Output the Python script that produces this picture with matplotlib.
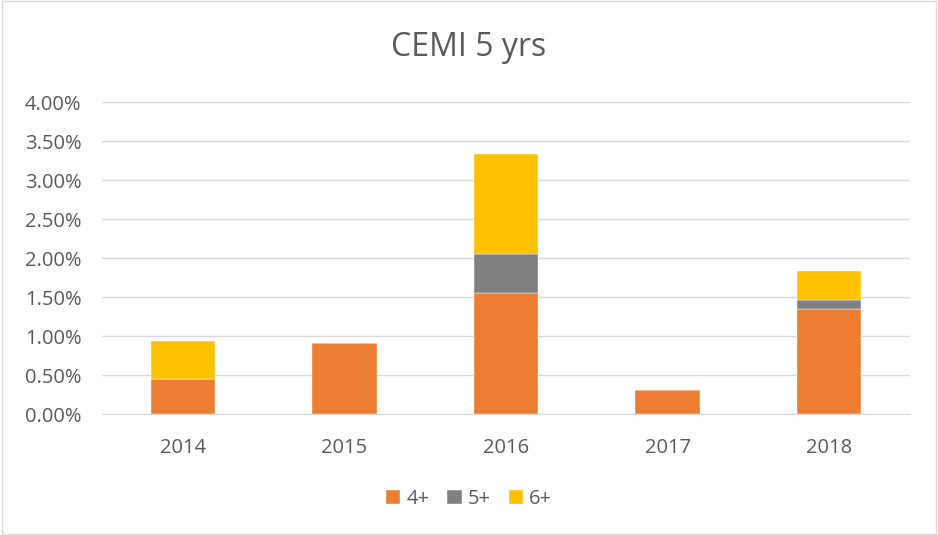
import numpy as np
import matplotlib.pyplot as plt
from matplotlib.patches import Rectangle
from matplotlib.ticker import FuncFormatter

years = ['2014', '2015', '2016', '2017', '2018']
s4 = np.array([0.455, 0.913, 1.55, 0.306, 1.346])
s5 = np.array([0.0, 0.0, 0.505, 0.0, 0.119])
s6 = np.array([0.488, 0.0, 1.275, 0.0, 0.365])
labels = ['4+', '5+', '6+']
colors = ['#ED7D31', '#808080', '#FFC000']

plt.rcParams['font.family'] = ['Open Sans', 'DejaVu Sans']
txt = '#595959'

fig = plt.figure(figsize=(9.38, 5.35), dpi=100)
ax = fig.add_axes([0.109, 0.226, 0.861, 0.583])

x = np.arange(len(years))
w = 0.4
bottom = np.zeros(len(years))
for vals, lab, c in zip([s4, s5, s6], labels, colors):
    ax.bar(x, vals, w, bottom=bottom, color=c, label=lab, zorder=3,
           edgecolor='white', linewidth=0.3)
    bottom = bottom + vals

ax.set_xlim(-0.5, len(years) - 0.5)
ax.set_ylim(0, 4)
ax.set_yticks(np.arange(0, 4.01, 0.5))
ax.yaxis.set_major_formatter(FuncFormatter(lambda v, p: f'{v:.2f}%'))
ax.set_xticks(x)
ax.set_xticklabels(years)
ax.grid(axis='y', color='#D9D9D9', linewidth=1, zorder=0)
for s in ['top', 'right', 'left']:
    ax.spines[s].set_visible(False)
ax.spines['bottom'].set_color('#D9D9D9')
ax.tick_params(axis='both', length=0, labelsize=14.5, colors=txt)
ax.tick_params(axis='x', pad=17)
ax.tick_params(axis='y', pad=15)

fig.text(0.5, 0.912, 'CEMI 5 yrs', ha='center', va='center', fontsize=23, color=txt)
fig.legend(loc='center', bbox_to_anchor=(0.5, 0.068), ncol=3, frameon=False,
           fontsize=14.5, labelcolor=txt, handlelength=0.7, handleheight=0.7,
           columnspacing=0.9, handletextpad=0.3)

fig.patches.append(Rectangle((0.002, 0.002), 0.996, 0.996, transform=fig.transFigure,
                             fill=False, edgecolor='#D9D9D9', linewidth=1))

fig.savefig('out.png', dpi=100)
